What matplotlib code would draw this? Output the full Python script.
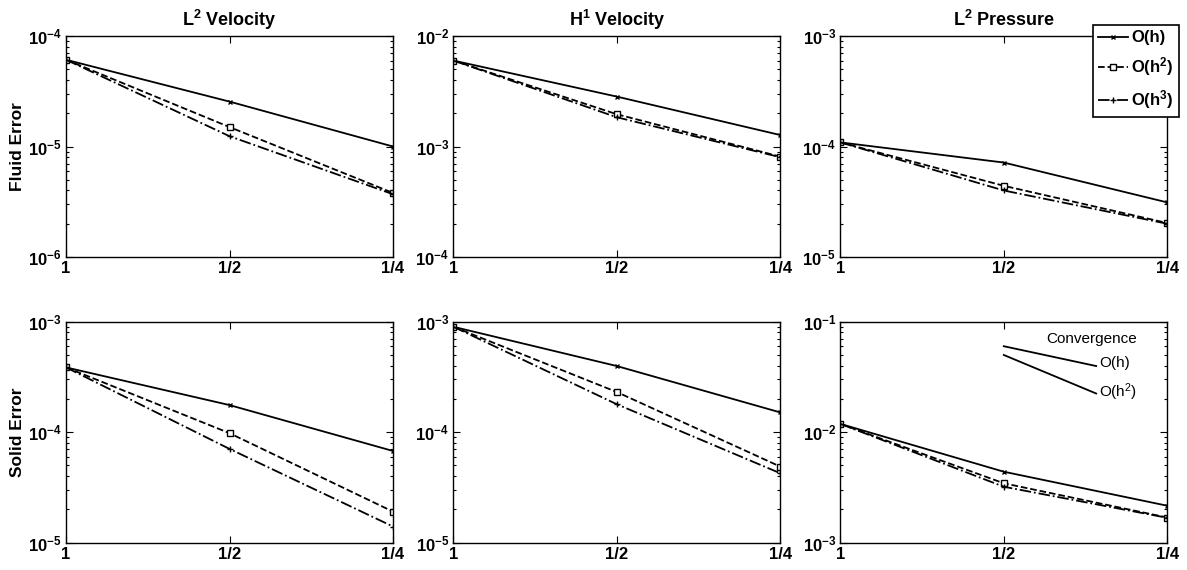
import matplotlib
matplotlib.use("Agg")
import math
import matplotlib.pyplot as plt
from matplotlib.ticker import LogLocator, NullLocator, FixedLocator, FixedFormatter, FuncFormatter

plt.rcParams['font.family'] = ['Liberation Sans', 'DejaVu Sans']
plt.rcParams['mathtext.fontset'] = 'custom'
plt.rcParams['mathtext.rm'] = 'Liberation Sans'
plt.rcParams['mathtext.bf'] = 'Liberation Sans:bold'
plt.rcParams['mathtext.it'] = 'Liberation Sans:italic'

# mesh sizes and tick labels
h = [1, 0.5, 0.25]
h_labels = ['1', '1/2', '1/4']

titles = ['L$^{\\mathbf{2}}$ Velocity', 'H$^{\\mathbf{1}}$ Velocity', 'L$^{\\mathbf{2}}$ Pressure']
row_labels = ['Fluid Error', 'Solid Error']
series_names = ['O(h)', 'O(h$^{\\mathbf{2}}$)', 'O(h$^{\\mathbf{3}}$)']

# fluid errors (rows of each panel: O(h), O(h^2), O(h^3))
fluid_l2_vel = [[6.1e-5, 2.55e-5, 1.0e-5],
                [6.1e-5, 1.5e-5, 3.8e-6],
                [6.1e-5, 1.24e-5, 3.7e-6]]
fluid_h1_vel = [[6.0e-3, 2.83e-3, 1.27e-3],
                [6.0e-3, 1.96e-3, 8.1e-4],
                [6.0e-3, 1.84e-3, 8.0e-4]]
fluid_l2_pres = [[1.09e-4, 7.16e-5, 3.12e-5],
                 [1.09e-4, 4.41e-5, 2.03e-5],
                 [1.09e-4, 4.0e-5, 2.0e-5]]

# solid errors
solid_l2_vel = [[3.86e-4, 1.76e-4, 6.76e-5],
                [3.86e-4, 9.8e-5, 1.91e-5],
                [3.86e-4, 7.06e-5, 1.4e-5]]
solid_h1_vel = [[9.0e-4, 3.97e-4, 1.51e-4],
                [9.0e-4, 2.31e-4, 4.88e-5],
                [9.0e-4, 1.79e-4, 4.25e-5]]
solid_l2_pres = [[1.19e-2, 4.39e-3, 2.16e-3],
                 [1.19e-2, 3.45e-3, 1.69e-3],
                 [1.19e-2, 3.21e-3, 1.68e-3]]

ylims = [[(1e-6, 1e-4), (1e-4, 1e-2), (1e-5, 1e-3)],
         [(1e-5, 1e-3), (1e-5, 1e-3), (1e-3, 1e-1)]]

# reference slopes drawn in the last panel
conv_h = [0.5, 0.338]
conv_o1 = [0.060, 0.0397]
conv_o2 = [0.050, 0.0224]

data = [[fluid_l2_vel, fluid_h1_vel, fluid_l2_pres],
        [solid_l2_vel, solid_h1_vel, solid_l2_pres]]

styles = [dict(ls='-', marker='x', ms=3.5, mew=1.0),
          dict(ls='--', marker='s', ms=4, mfc='white', mew=1.0),
          dict(ls='-.', marker='+', ms=5, mew=1.0)]


def pow_label(v, pos):
    e = int(round(math.log10(v)))
    return '$\\mathbf{10^{%d}}$' % e


fig = plt.figure(figsize=(11.87, 5.70), dpi=100)
lefts = [0.0556, 0.3819, 0.7079]
bottoms = [0.5491, 0.0479]
w, hgt = 0.2755, 0.3877

axes = []
for r in range(2):
    for c in range(3):
        ax = fig.add_axes([lefts[c], bottoms[r], w, hgt])
        axes.append(ax)
        lines = []
        for k in range(3):
            ln, = ax.plot(h, data[r][c][k], color='black', lw=1.3, **styles[k])
            lines.append(ln)
        ax.set_xscale('log', base=2)
        ax.set_yscale('log')
        ax.set_xlim(1, 0.25)
        ax.set_ylim(*ylims[r][c])
        ax.xaxis.set_major_locator(FixedLocator(h))
        ax.xaxis.set_major_formatter(FixedFormatter(h_labels))
        ax.xaxis.set_minor_locator(NullLocator())
        ax.yaxis.set_major_locator(LogLocator(base=10, numticks=5))
        ax.yaxis.set_major_formatter(FuncFormatter(pow_label))
        ax.yaxis.set_minor_locator(LogLocator(base=10, subs=range(2, 10), numticks=20))
        ax.tick_params(which='both', direction='in', top=True, right=True, labelsize=12, width=0.8)
        ax.tick_params(which='major', length=5, pad=3)
        ax.tick_params(which='minor', length=2.5)
        for lab in ax.get_xticklabels():
            lab.set_fontweight('bold')
        for sp in ax.spines.values():
            sp.set_linewidth(1.0)
        if r == 0:
            ax.set_title(titles[c], fontsize=13, fontweight='bold', pad=7)
        if c == 0:
            ax.set_ylabel(row_labels[r], fontsize=12.5, fontweight='bold', labelpad=2)
        if r == 0 and c == 2:
            leg = fig.legend(lines, series_names, loc='upper right',
                             bbox_to_anchor=(0.9935, 0.957),
                             prop={'weight': 'bold', 'size': 12},
                             handlelength=1.8, handletextpad=0.15, borderpad=0.35,
                             labelspacing=0.6, fancybox=False, framealpha=1,
                             edgecolor='black', borderaxespad=0.0)
            leg.get_frame().set_linewidth(1.2)

ax = axes[5]
ax.plot(conv_h, conv_o1, color='black', lw=1.3)
ax.plot(conv_h, conv_o2, color='black', lw=1.3)
ax.text(0.768, 0.922, 'Convergence', transform=ax.transAxes, ha='center', va='center', fontsize=11)
ax.text(0.7925, 0.813, 'O(h)', transform=ax.transAxes, ha='left', va='center', fontsize=11)
ax.text(0.7925, 0.682, 'O(h$^{\\mathrm{2}}$)', transform=ax.transAxes, ha='left', va='center', fontsize=11)

fig.savefig('out.png', dpi=100)
